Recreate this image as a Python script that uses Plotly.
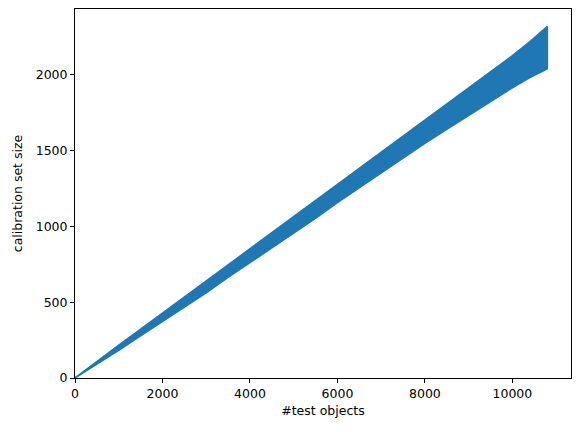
import plotly.graph_objects as go

# Envelope of the dense oscillating curve
x_vals = [0, 500, 1000, 1500, 2000, 2500, 3000, 3500, 4000, 4500, 5000, 5500,
          6000, 6500, 7000, 7500, 8000, 8500, 9000, 9500, 10000, 10400, 10800]
upper = [0, 111, 217, 322, 428, 534, 638, 746, 850, 955, 1064, 1168,
         1275, 1380, 1484, 1590, 1700, 1808, 1912, 2018, 2126, 2219, 2319]
lower = [0, 89, 183, 278, 372, 467, 562, 663, 760, 856, 956, 1053,
         1156, 1254, 1350, 1447, 1548, 1640, 1733, 1826, 1914, 1981, 2039]

x_ticks = [0, 2000, 4000, 6000, 8000, 10000]
x_tick_labels = ["0", "2000", "4000", "6000", "8000", "10000"]
y_ticks = [0, 500, 1000, 1500, 2000]
y_tick_labels = ["0", "500", "1000", "1500", "2000"]

color = "#1f77b4"

fig = go.Figure()
fig.add_trace(go.Scatter(x=x_vals, y=lower, mode="lines",
                         line=dict(color=color, width=1.5), showlegend=False))
fig.add_trace(go.Scatter(x=x_vals, y=upper, mode="lines", fill="tonexty",
                         fillcolor=color,
                         line=dict(color=color, width=1.5), showlegend=False))
# closing vertical edge at the end
fig.add_trace(go.Scatter(x=[x_vals[-1], x_vals[-1]], y=[lower[-1], upper[-1]],
                         mode="lines", line=dict(color=color, width=1.5),
                         showlegend=False))

axis_common = dict(showgrid=False, zeroline=False, showline=True, linecolor="black",
                   linewidth=1, mirror=True, ticks="outside", ticklen=4,
                   tickcolor="black", tickwidth=1,
                   tickfont=dict(family="DejaVu Sans", size=12.5, color="black"))

fig.update_layout(
    width=580, height=432,
    margin=dict(l=75, r=9, t=9, b=54),
    paper_bgcolor="white", plot_bgcolor="white",
    xaxis=dict(range=[0, 11340], tickvals=x_ticks, ticktext=x_tick_labels,
               title=dict(text="#test objects", standoff=6,
                          font=dict(family="DejaVu Sans", size=12.5, color="black")),
               **axis_common),
    yaxis=dict(range=[0, 2434], tickvals=y_ticks, ticktext=y_tick_labels,
               title=dict(text="calibration set size", standoff=10,
                          font=dict(family="DejaVu Sans", size=12.5, color="black")),
               **axis_common),
)

fig.write_html("out.html")
